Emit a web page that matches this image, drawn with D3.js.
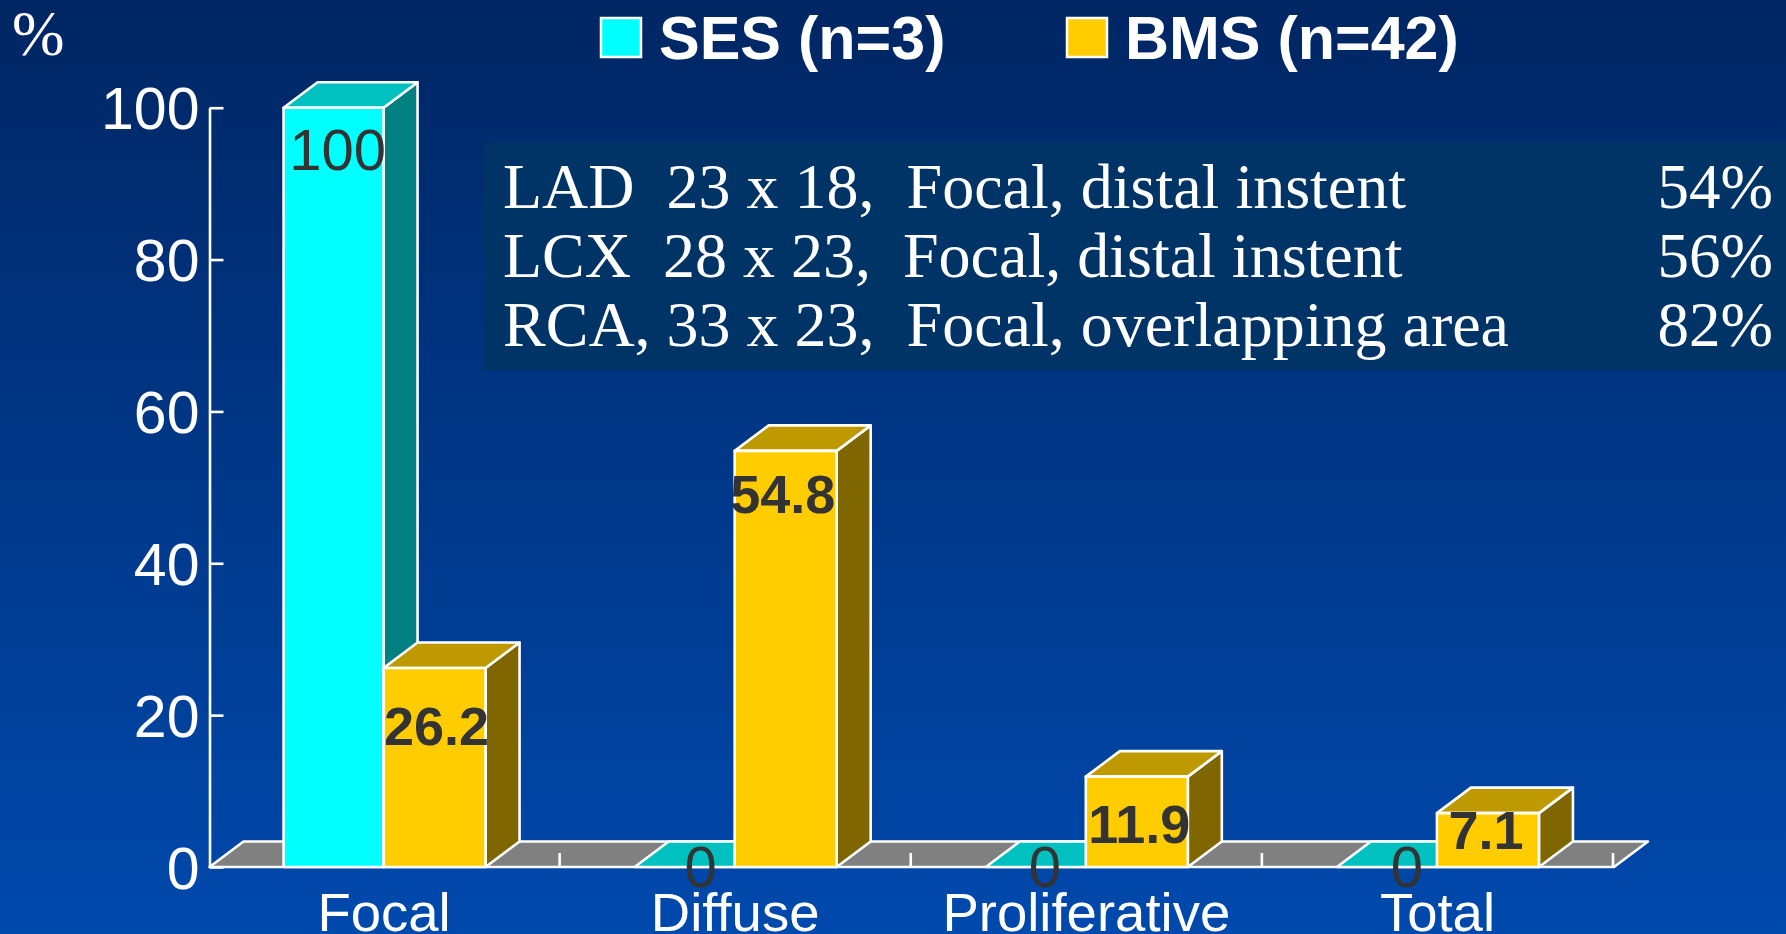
<!DOCTYPE html>
<html><head><meta charset="utf-8">
<script src="https://d3js.org/d3.v7.min.js"></script>
<style>html,body{margin:0;padding:0;background:#003;overflow:hidden}svg{display:block}text{white-space:pre}</style>
</head><body><svg id="c" width="1786" height="934"></svg>
<script>
const categories = ["Focal","Diffuse","Proliferative","Total"];
const seriesNames = ["SES (n=3)","BMS (n=42)"];
const ses = [100,0,0,0];
const bms = [26.2,54.8,11.9,7.1];
const yTicks = [0,20,40,60,80,100];
const noteRows = ["LAD  23 x 18,  Focal, distal instent","LCX  28 x 23,  Focal, distal instent","RCA, 33 x 23,  Focal, overlapping area"];
const notePcts = ["54%","56%","82%"];

const sans="'Liberation Sans',Arial,sans-serif", serif="'Liberation Serif','Times New Roman',serif";
const svg=d3.select("#c");
const defs=svg.append("defs");
const g=defs.append("linearGradient").attr("id","bg").attr("x1",0).attr("x2",0).attr("y1",0).attr("y2",1);
g.append("stop").attr("offset",0).attr("stop-color","#002663");
g.append("stop").attr("offset",1).attr("stop-color","#0049AD");
svg.append("rect").attr("width",1786).attr("height",934).attr("fill","url(#bg)");

const x0=d3.scaleBand().domain(categories).range([209.5,1614]);
const barWs=[100,102], nudge=-1.5;
const x1=d3.scaleOrdinal().domain([0,1]).range([-100+nudge,nudge]);
const y=d3.scaleLinear().domain([0,100]).range([867,107.7]);
const dx=34, dy=25.5, sw=2.6;
const palette=[{front:"#00FFFF",top:"#00C0C0",side:"#008080"},{front:"#FFCC00",top:"#BF9900",side:"#806600"}];

// annotation panel
svg.append("rect").attr("x",484).attr("y",143).attr("width",1302).attr("height",227).attr("fill","#003366");
const rowY=[208,277,346];
svg.selectAll(".row").data(noteRows).join("text").attr("x",503).attr("y",(d,i)=>rowY[i])
  .attr("font-family",serif).attr("font-size",64).attr("fill","#fff").text(d=>d);
svg.selectAll(".pct").data(notePcts).join("text").attr("x",1773).attr("y",(d,i)=>rowY[i]).attr("text-anchor","end")
  .attr("font-family",serif).attr("font-size",63).attr("fill","#fff").text(d=>d);

// floor
const L=x0.range()[0],R=x0.range()[1],B=y(0);
svg.append("path").attr("d",`M${L},${B}L${L+dx},${B-dy}L${R+dx},${B-dy}L${R},${B}Z`)
  .attr("fill","#808080").attr("stroke","#fff").attr("stroke-width",sw).attr("stroke-linejoin","round");

// y axis
const ax=svg.append("g").attr("transform",`translate(${L},0)`)
  .call(d3.axisLeft(y).tickValues(yTicks).tickSize(-14).tickPadding(10).tickSizeOuter(0));
ax.selectAll("path,line").attr("stroke","#fff").attr("stroke-width",sw);
ax.selectAll("text").attr("font-family",sans).attr("font-size",59).attr("fill","#fff").attr("dy","0.36em");

// x axis
const ticksX=d3.range(1,5).map(i=>L+i*x0.step()-1);
svg.selectAll(".xt").data(ticksX).join("line").attr("x1",d=>d).attr("x2",d=>d).attr("y1",B).attr("y2",B-14)
  .attr("stroke","#fff").attr("stroke-width",sw);
svg.selectAll(".xl").data(categories).join("text").attr("x",d=>x0(d)+x0.bandwidth()/2-1).attr("y",931).attr("text-anchor","middle")
  .attr("font-family",sans).attr("font-size",54.5).attr("fill","#fff").text(d=>d);

// bars
function box(cat,s,v){
  const c=palette[s],l=x0(cat)+x0.bandwidth()/2+x1(s),r=l+barWs[s],t=y(v),b=y(0);
  const gb=svg.append("g").attr("stroke","#fff").attr("stroke-width",sw).attr("stroke-linejoin","round");
  if(v>0){
    gb.append("path").attr("d",`M${r},${t}L${r+dx},${t-dy}L${r+dx},${b-dy}L${r},${b}Z`).attr("fill",c.side);
    gb.append("path").attr("d",`M${l},${t}L${l+dx},${t-dy}L${r+dx},${t-dy}L${r},${t}Z`).attr("fill",c.top);
    gb.append("rect").attr("x",l).attr("y",t).attr("width",barWs[s]).attr("height",b-t).attr("fill",c.front);
  } else {
    gb.append("path").attr("d",`M${l},${b}L${l+dx},${b-dy}L${r+dx},${b-dy}L${r},${b}Z`).attr("fill",c.top);
  }
}
categories.forEach((cat,i)=>{box(cat,0,ses[i]);box(cat,1,bms[i]);});

// value labels
const sesLabelOffset=[[54,62],[66,20],[59,20],[70,20]];
const bmsLabelOffset=[[53,77],[48,62],[53.5,66],[49,36]];
categories.forEach((cat,i)=>{
  const c=x0(cat)+x0.bandwidth()/2;
  svg.append("text").attr("x",c+x1(0)+sesLabelOffset[i][0]).attr("y",y(ses[i])+sesLabelOffset[i][1]).attr("text-anchor","middle")
    .attr("font-family",sans).attr("font-size",58).attr("fill","#333").text(ses[i]);
  svg.append("text").attr("x",c+x1(1)+bmsLabelOffset[i][0]).attr("y",y(bms[i])+bmsLabelOffset[i][1]).attr("text-anchor","middle")
    .attr("font-family",sans).attr("font-weight","bold").attr("font-size",54).attr("fill","#333").text(bms[i]);
});

// legend
const swX=[601,1067],txX=[659,1125];
seriesNames.forEach((n,i)=>{
  svg.append("rect").attr("x",swX[i]).attr("y",18).attr("width",40).attr("height",39).attr("fill",palette[i].front).attr("stroke","#fff").attr("stroke-width",2.5);
  svg.append("text").attr("x",txX[i]).attr("y",59).attr("font-family",sans).attr("font-weight","bold").attr("font-size",61).attr("fill","#fff").text(n);
});
svg.append("text").attr("x",12).attr("y",55).attr("font-family",serif).attr("font-size",63).attr("fill","#fff").text("%");
</script></body></html>
